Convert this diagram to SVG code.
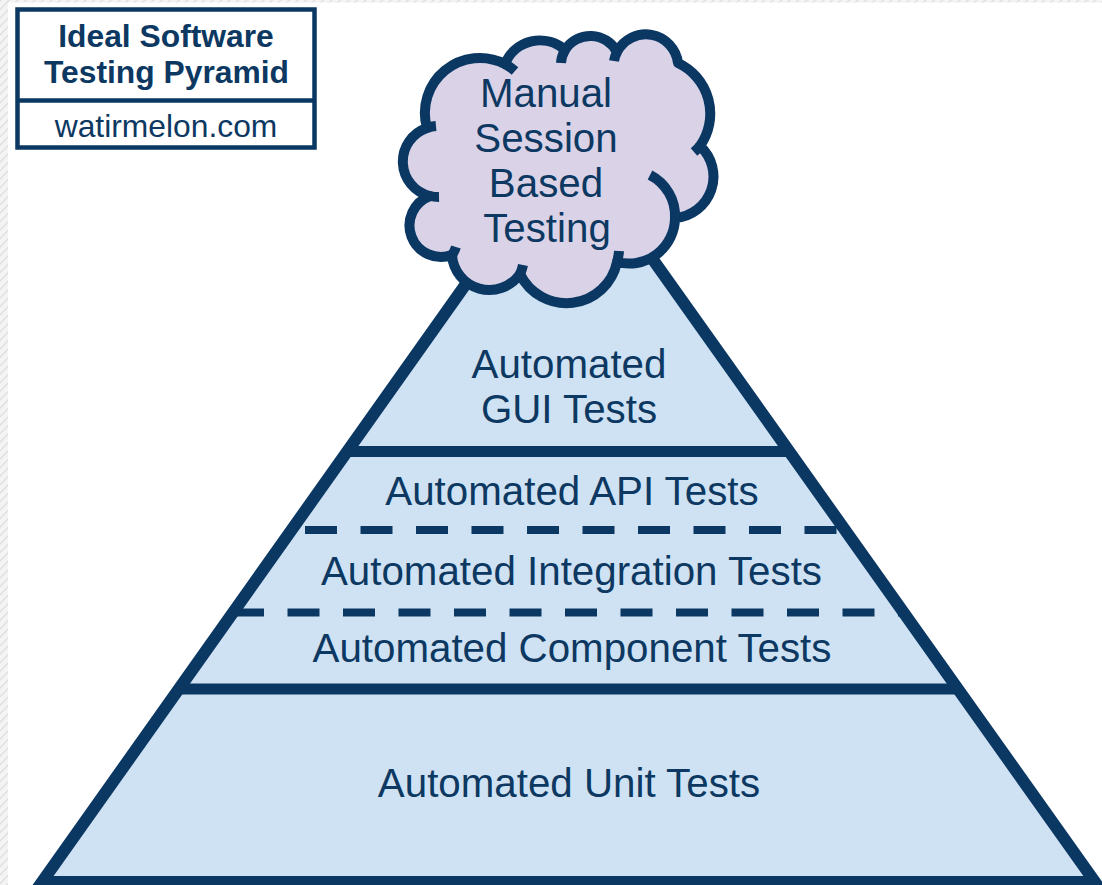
<svg xmlns="http://www.w3.org/2000/svg" width="1102" height="885" viewBox="0 0 1102 885">
  <defs>
    <pattern id="hatch" patternUnits="userSpaceOnUse" width="6" height="6" patternTransform="rotate(45)">
      <rect width="6" height="6" fill="#f4f4f4"/>
      <line x1="0" y1="0" x2="0" y2="6" stroke="#dcdcdc" stroke-width="2.5"/>
    </pattern>
  </defs>
  <style>
    .lbl { font-family: "Liberation Sans", Arial, sans-serif; font-size: 40.3px; fill: #0C3862; text-anchor: middle; }
    .ttl { font-family: "Liberation Sans", Arial, sans-serif; font-size: 31.8px; fill: #0C3862; text-anchor: middle; }
    .solid { stroke: #0B3763; stroke-width: 11; fill: none; }
    .dash { stroke: #0B3763; stroke-width: 8; fill: none; stroke-dasharray: 32 23.5; }
    .edge { stroke: #0B3763; stroke-width: 12; stroke-linejoin: miter; }
  </style>

  <rect x="0" y="0" width="1102" height="885" fill="#ffffff"/>
  <rect x="0" y="0" width="8" height="885" fill="url(#hatch)"/>
  <rect x="0" y="0" width="1102" height="2.5" fill="url(#hatch)"/>

  <g id="pyramid">
    <polygon points="568,140 1095,882 42,882" fill="#CFE2F3"/>
  </g>

  <g id="connectors">
    <line class="solid" x1="347" y1="451.5" x2="789" y2="451.5"/>
    <line class="dash" x1="305" y1="530" x2="837" y2="530"/>
    <line class="dash" x1="232" y1="612.5" x2="906" y2="612.5"/>
    <line class="solid" x1="179" y1="689" x2="957" y2="689"/>
  </g>

  <g id="layer-gui">
    <text class="lbl" x="569" y="378">Automated</text>
    <text class="lbl" x="569" y="423">GUI Tests</text>
  </g>
  <g id="layer-api">
    <text class="lbl" x="572" y="505">Automated API Tests</text>
  </g>
  <g id="layer-integration">
    <text class="lbl" x="571.5" y="585">Automated Integration Tests</text>
  </g>
  <g id="layer-component">
    <text class="lbl" x="572" y="662">Automated Component Tests</text>
  </g>
  <g id="layer-unit">
    <text class="lbl" x="569" y="797">Automated Unit Tests</text>
  </g>

  <g id="pyramid-outline">
    <polygon class="edge" points="568,140 1095,882 42,882" fill="none"/>
  </g>

  <g id="cloud">
    <path d="M427,128
             A55,55 0 0 1 505,64
             A37.7,37.7 0 0 1 565,50
             A30,30 0 0 1 617,52
             A32.4,32.4 0 0 1 678,63
             A56,56 0 0 1 700,146
             A41.5,41.5 0 0 1 675,218
             A46,46 0 0 1 617,262
             A51.6,51.6 0 0 1 520,274
             A37.4,37.4 0 0 1 452,255
             A31,31 0 0 1 430,196
             A35.4,35.4 0 0 1 427,128 Z"
          fill="#DAD3E8" stroke="#0B3763" stroke-width="10" stroke-linejoin="round"/>
    <g fill="none" stroke="#0B3763" stroke-width="10">
      <path d="M505,64 A55,55 0 0 1 515,71"/>
      <path d="M565,50 A30,30 0 0 0 561,63"/>
      <path d="M617,52 A32.4,32.4 0 0 0 614,61"/>
      <path d="M700,146 A56,56 0 0 1 694,152"/>
      <path d="M650,175 A46,46 0 0 1 675,218"/>
      <path d="M617,262 A51.6,51.6 0 0 0 619,251"/>
      <path d="M520,274 A37.4,37.4 0 0 0 523,265"/>
      <path d="M452,255 A31,31 0 0 0 456,247"/>
      <path d="M430,196 A35.4,35.4 0 0 0 439,197"/>
      <path d="M427,128 A35.4,35.4 0 0 1 436,126"/>
    </g>
    <text class="lbl" x="546" y="107">Manual</text>
    <text class="lbl" x="546" y="152">Session</text>
    <text class="lbl" x="546" y="197">Based</text>
    <text class="lbl" x="547" y="242">Testing</text>
  </g>

  <g id="title-box">
    <rect x="17.5" y="9.5" width="297" height="138" fill="#ffffff" stroke="#0B3763" stroke-width="4.5"/>
    <line x1="17.5" y1="100.5" x2="314.5" y2="100.5" stroke="#0B3763" stroke-width="4.5"/>
    <text class="ttl" x="166" y="47" font-weight="bold">Ideal Software</text>
    <text class="ttl" x="166.5" y="83" font-weight="bold">Testing Pyramid</text>
    <text class="ttl" x="166" y="137">watirmelon.com</text>
  </g>
</svg>
